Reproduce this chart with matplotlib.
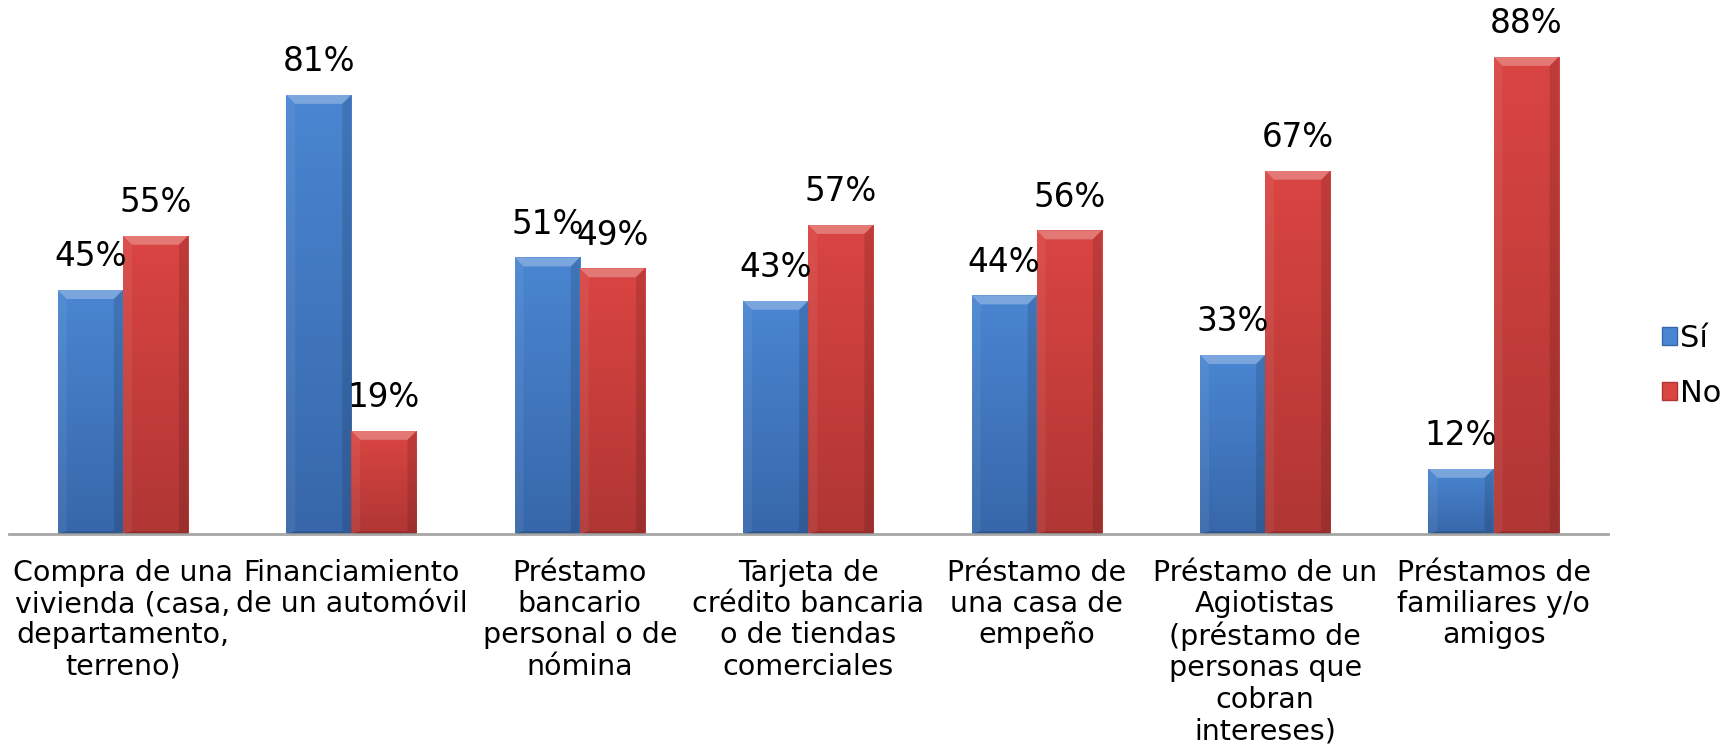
import numpy as np
import matplotlib.pyplot as plt
from matplotlib.patches import Polygon
from matplotlib.colors import LinearSegmentedColormap

categorias = [
    "Compra de una\nvivienda (casa,\ndepartamento,\nterreno)",
    "Financiamiento\nde un automóvil",
    "Préstamo\nbancario\npersonal o de\nnómina",
    "Tarjeta de\ncrédito bancaria\no de tiendas\ncomerciales",
    "Préstamo de\nuna casa de\nempeño",
    "Préstamo de un\nAgiotistas\n(préstamo de\npersonas que\ncobran\nintereses)",
    "Préstamos de\nfamiliares y/o\namigos",
]
si = [45, 81, 51, 43, 44, 33, 12]
no = [55, 19, 49, 57, 56, 67, 88]

plt.rcParams['font.family'] = 'DejaVu Sans'

fig = plt.figure(figsize=(17.27, 7.54), dpi=100)
ax = fig.add_axes([0.005, 0.292, 0.926, 0.708])

x = np.arange(len(categorias))
ancho = 0.285

# colores (arriba, abajo) de cada serie
series = [
    ("Sí", si, -ancho / 2, "#4A86D2", "#3767AA"),
    ("No", no, ancho / 2, "#DA4542", "#B03634"),
]

ax.set_xlim(-0.5, len(categorias) - 0.5)
ax.set_ylim(0, 98.5)

# tamaño del bisel en unidades de datos (~9 px)
bx = 9 / 228.5
by = 9 / 5.42


def barra_biselada(xc, h, c_top, c_bot):
    x0, x1 = xc - ancho / 2, xc + ancho / 2
    cmap = LinearSegmentedColormap.from_list("g", [c_bot, c_top])
    grad = np.linspace(0, 1, 256).reshape(-1, 1)
    im = ax.imshow(grad, cmap=cmap, origin="lower", aspect="auto",
                   extent=[x0, x1, 0, h], zorder=2)
    rect = plt.Rectangle((x0, 0), ancho, h, facecolor="none", edgecolor="none")
    ax.add_patch(rect)
    im.set_clip_path(rect)
    # bisel superior claro
    ax.add_patch(Polygon([(x0, h), (x1, h), (x1 - bx, h - by), (x0 + bx, h - by)],
                         closed=True, facecolor="white", alpha=0.28,
                         edgecolor="none", zorder=3))
    # lado izquierdo claro, lado derecho oscuro
    ax.add_patch(Polygon([(x0, 0), (x0, h), (x0 + bx, h - by), (x0 + bx, by * 0.3)],
                         closed=True, facecolor="white", alpha=0.06,
                         edgecolor="none", zorder=3))
    ax.add_patch(Polygon([(x1, 0), (x1, h), (x1 - bx, h - by), (x1 - bx, by * 0.3)],
                         closed=True, facecolor="black", alpha=0.12,
                         edgecolor="none", zorder=3))
    ax.add_patch(Polygon([(x0, 0), (x1, 0), (x1 - bx, by * 0.3), (x0 + bx, by * 0.3)],
                         closed=True, facecolor="black", alpha=0.15,
                         edgecolor="none", zorder=3))


for nombre, valores, desp, c_top, c_bot in series:
    for xi, v in zip(x, valores):
        barra_biselada(xi + desp, v, c_top, c_bot)
        ax.annotate(f"{v}%", (xi + desp, v), xytext=(0, 12),
                    textcoords="offset points", ha="center", va="bottom",
                    fontsize=23.5, color="black", zorder=4)

# leyenda con marcadores cuadrados
handles = [plt.Rectangle((0, 0), 1, 1, facecolor=s[3], edgecolor=s[4], linewidth=1)
           for s in series]
fig.legend(handles, [s[0] for s in series], loc="center left",
           bbox_to_anchor=(0.9535, 0.515), frameon=False, fontsize=22,
           handlelength=0.5, handleheight=0.5, handletextpad=0.1,
           labelspacing=0.85, borderpad=0)

ax.set_xticks(x)
ax.set_xticklabels(categorias, fontsize=20.5, linespacing=1.15)
ax.tick_params(axis="x", length=0, pad=18)
ax.set_yticks([])
for lado in ["left", "right", "top"]:
    ax.spines[lado].set_visible(False)
ax.spines["bottom"].set_color("#A6A6A6")
ax.spines["bottom"].set_linewidth(2)
ax.patch.set_alpha(0)

fig.savefig("out.png", dpi=100, facecolor="white")
